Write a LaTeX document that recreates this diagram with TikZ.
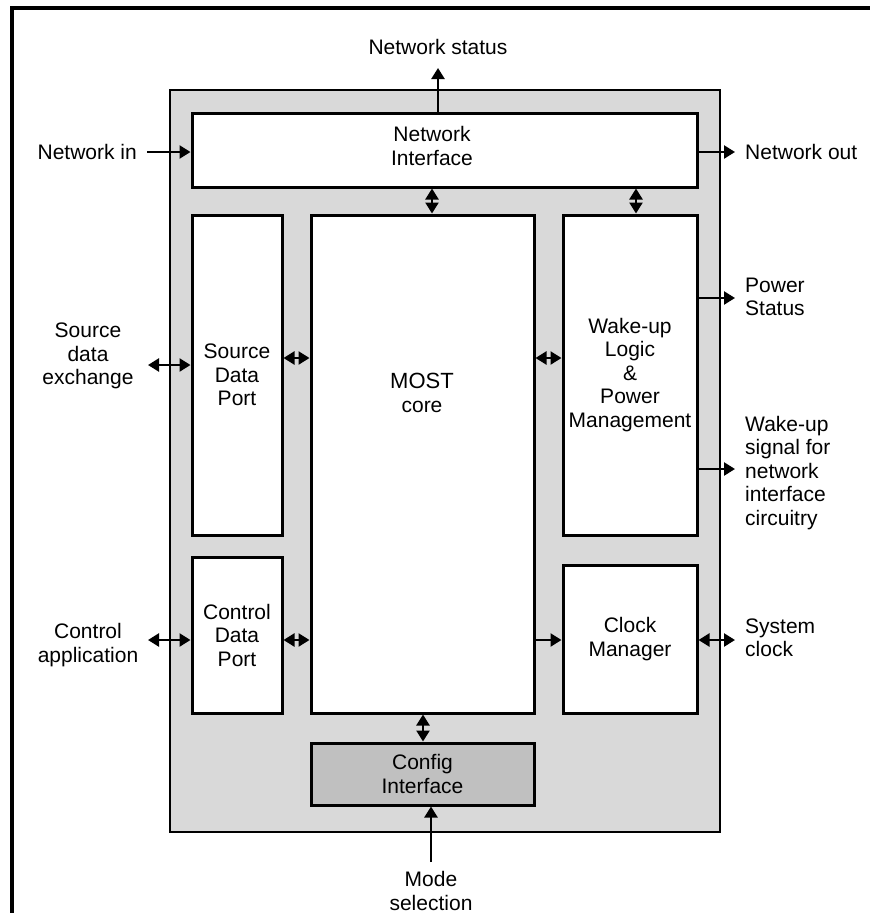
\documentclass[tikz,border=0pt]{standalone}
\usepackage{fontspec}
\setmainfont{Liberation Sans}
\usepackage{xcolor}
\usetikzlibrary{arrows.meta,positioning,calc}
\definecolor{chipgray}{HTML}{D9D9D9}
\definecolor{cfggray}{HTML}{C0C0C0}
\newcommand{\boxfont}{\fontsize{21}{23.5}\selectfont}

\begin{document}
\begin{tikzpicture}[
  x=1pt, y=-1pt,
  chip/.style={draw, line width=1.2pt, fill=chipgray, inner sep=0pt},
  blk/.style={draw, line width=3pt, fill=white, inner sep=0pt,
    align=center, font=\boxfont},
  txt/.style={inner sep=0pt, align=center, font=\boxfont},
  rtxt/.style={txt, anchor=west, align=left},
  arr/.style={-{Triangle[length=11pt,width=13pt]}, line width=2.4pt},
  dbl/.style={{Triangle[length=11pt,width=13pt]}-{Triangle[length=11pt,width=13pt]},
    line width=2.4pt},
]
\useasboundingbox (0,0) rectangle (870,913);
% frame
\draw[line width=4pt] (12,913) -- (12,8) -- (870,8);

% chip and blocks
\node[chip, minimum width=550pt, minimum height=742pt] (chip) at (445,461) {};
\node[blk, minimum width=505pt, minimum height=74pt] (ni) at (444.5,150) {};
\node[txt] (nilbl) at (432,146) {Network\\Interface};
\node[blk, minimum width=90pt, minimum height=320pt] (sdp) at (237,375) {Source\\Data\\Port};
\node[blk, minimum width=223pt, minimum height=498pt] (most) at (422.5,464) {};
\node[txt] (mostlbl) at (422,393) {{\fontsize{22}{25}\selectfont MOST}\\core};
\node[blk, minimum width=134pt, minimum height=320pt] (wake) at (630,375)
  {Wake-up\\Logic\\\&\\Power\\Management};
\node[blk, minimum width=90pt, minimum height=156pt] (cdp) at (237,635) {Control\\Data\\Port};
\node[blk, minimum width=134pt, minimum height=148pt] (clk) at (630,639) {Clock\\Manager};
\node[blk, fill=cfggray, minimum width=223pt, minimum height=62pt] (cfg) at (422.5,774)
  {Config\\Interface};

% outside labels
\node[txt, anchor=east] (netin) at (137,152) {Network in};
\node[rtxt] (netout) at (745,152) {Network out};
\node[txt] (netstat) at (438,47) {Network status};
\node[txt] (srcx) at (88,356) {Source\\data\\exchange};
\node[txt] (ctrlapp) at (88,645) {Control\\application};
\node[rtxt] (pwrstat) at (745,297) {Power\\Status};
\node[rtxt] (wakesig) at (745,473) {Wake-up\\signal for\\network\\interface\\circuitry};
\node[rtxt] (sysclk) at (745,638) {System\\clock};
\node[txt] (mode) at (431,891) {Mode\\selection};

% free ends
\coordinate (netinE) at (147,152);
\coordinate (netoutE) at (735,152);
\coordinate (netstatE) at (438,68);
\coordinate (srcxE) at (148,365);
\coordinate (ctrlE) at (148,640);
\coordinate (pwrE) at (735,298);
\coordinate (wsigE) at (735,469);
\coordinate (sysE) at (735,640);
\coordinate (modeE) at (431,862);

% connectors
\draw[arr] (netinE) -- (netinE -| ni.west);
\draw[arr] (netoutE -| ni.east) -- (netoutE);
\draw[arr] (netstatE |- ni.north) -- (netstatE);
\draw[dbl] (432,0 |- ni.south) -- (432,0 |- most.north);
\draw[dbl] (636,0 |- ni.south) -- (636,0 |- wake.north);
\draw[dbl] (srcxE) -- (srcxE -| sdp.west);
\draw[dbl] (sdp.east |- 0,358) -- (most.west |- 0,358);
\draw[dbl] (most.east |- 0,358) -- (wake.west |- 0,358);
\draw[arr] (pwrE -| wake.east) -- (pwrE);
\draw[arr] (wsigE -| wake.east) -- (wsigE);
\draw[dbl] (ctrlE) -- (ctrlE -| cdp.west);
\draw[dbl] (cdp.east |- 0,640) -- (most.west |- 0,640);
\draw[arr] (most.east |- 0,640) -- (clk.west |- 0,640);
\draw[dbl] (sysE -| clk.east) -- (sysE);
\draw[dbl] (423,0 |- most.south) -- (423,0 |- cfg.north);
\draw[arr] (modeE) -- (modeE |- cfg.south);
\end{tikzpicture}
\end{document}
